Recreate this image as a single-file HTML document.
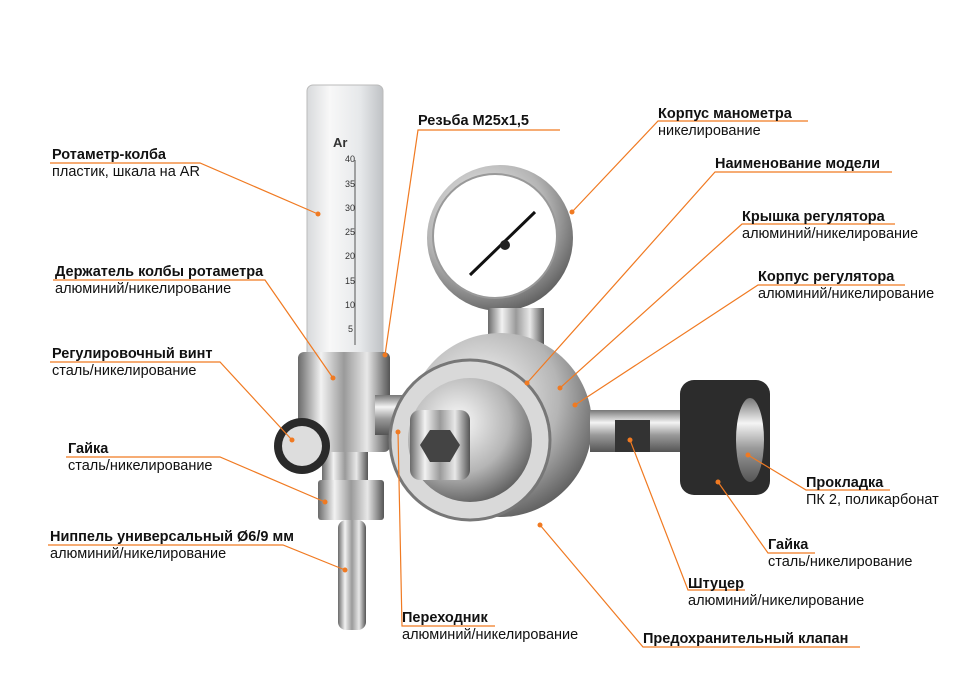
<!DOCTYPE html>
<html><head><meta charset="utf-8"><style>
html,body{margin:0;padding:0;background:#fff;}
body{width:972px;height:687px;position:relative;overflow:hidden;font-family:"Liberation Sans",sans-serif;}
.l{position:absolute;font-size:14.5px;line-height:17px;color:#111;white-space:nowrap;}
.l b{font-weight:bold;}
svg{position:absolute;left:0;top:0;}
</style></head><body>
<svg width="972" height="687" viewBox="0 0 972 687">
<defs>
<linearGradient id="chr" x1="0" x2="1" y1="0" y2="0">
<stop offset="0" stop-color="#6a6a6a"/><stop offset=".25" stop-color="#f2f2f2"/><stop offset=".5" stop-color="#9a9a9a"/><stop offset=".75" stop-color="#e8e8e8"/><stop offset="1" stop-color="#555"/></linearGradient>
<linearGradient id="chrv" x1="0" x2="0" y1="0" y2="1">
<stop offset="0" stop-color="#777"/><stop offset=".3" stop-color="#f4f4f4"/><stop offset=".6" stop-color="#999"/><stop offset="1" stop-color="#555"/></linearGradient>
<radialGradient id="rg" cx=".4" cy=".35" r=".7"><stop offset="0" stop-color="#fafafa"/><stop offset=".6" stop-color="#b5b5b5"/><stop offset="1" stop-color="#5a5a5a"/></radialGradient>
<linearGradient id="tube" x1="0" x2="1"><stop offset="0" stop-color="#d8dadc"/><stop offset=".3" stop-color="#f8f8f8"/><stop offset=".7" stop-color="#e6e8ea"/><stop offset="1" stop-color="#bfc2c5"/></linearGradient>
</defs>
<rect x="307" y="85" width="76" height="275" rx="6" fill="url(#tube)" stroke="#bbb"/>
<text x="333" y="147" font-family="Liberation Sans" font-weight="bold" font-size="13" fill="#333">Ar</text>
<line x1="355" y1="160" x2="355" y2="345" stroke="#555"/>
<g font-family="Liberation Sans" font-size="9" fill="#333">
<text x="345" y="162">40</text><text x="345" y="187">35</text><text x="345" y="211">30</text><text x="345" y="235">25</text><text x="345" y="259">20</text><text x="345" y="284">15</text><text x="345" y="308">10</text><text x="348" y="332">5</text></g>
<rect x="298" y="352" width="92" height="100" rx="6" fill="url(#chr)"/>
<rect x="375" y="395" width="30" height="40" fill="url(#chrv)"/>
<rect x="322" y="452" width="46" height="30" fill="url(#chr)"/>
<rect x="318" y="480" width="66" height="40" rx="3" fill="url(#chr)"/>
<rect x="338" y="520" width="28" height="110" rx="8" fill="url(#chr)"/>
<circle cx="302" cy="446" r="28" fill="#2a2a2a"/><circle cx="302" cy="446" r="20" fill="#ddd"/>
<circle cx="500" cy="238" r="73" fill="url(#rg)"/>
<circle cx="495" cy="236" r="62" fill="#fff" stroke="#999" stroke-width="2"/>
<line x1="470" y1="275" x2="535" y2="212" stroke="#111" stroke-width="3"/>
<circle cx="505" cy="245" r="5" fill="#222"/>
<rect x="488" y="308" width="56" height="40" fill="url(#chr)"/>
<circle cx="500" cy="425" r="92" fill="url(#rg)"/>
<circle cx="470" cy="440" r="80" fill="#d9d9d9" stroke="#777" stroke-width="3"/>
<circle cx="470" cy="440" r="62" fill="url(#rg)"/>
<rect x="410" y="410" width="60" height="70" rx="10" fill="url(#chr)"/>
<polygon points="420,445 430,430 450,430 460,445 450,462 430,462" fill="#444"/>
<rect x="590" y="410" width="100" height="42" fill="url(#chrv)"/>
<rect x="615" y="420" width="35" height="32" fill="#333"/>
<rect x="680" y="380" width="90" height="115" rx="14" fill="#2c2c2c"/>
<ellipse cx="750" cy="440" rx="14" ry="42" fill="url(#chrv)"/>
<g stroke="#f07a22" stroke-width="1.2" fill="none">
<polyline points="50,163 200,163 318,214"/>
<polyline points="53,280 265,280 333,378"/>
<polyline points="50,362 220,362 292,440"/>
<polyline points="66,457 220,457 325,502"/>
<polyline points="48,545 283,545 345,570"/>
<polyline points="560,130 418,130 385,355"/>
<polyline points="808,121 658,121 572,212"/>
<polyline points="892,172 715,172 527,383"/>
<polyline points="895,224 742,224 560,388"/>
<polyline points="905,285 758,285 575,405"/>
<polyline points="890,490 806,490 748,455"/>
<polyline points="815,553 768,553 718,482"/>
<polyline points="745,590 688,590 630,440"/>
<polyline points="860,647 643,647 540,525"/>
<polyline points="495,626 402,626 398,432"/>
</g>
<g fill="#f07a22">
<circle cx="318" cy="214" r="2.5"/><circle cx="333" cy="378" r="2.5"/><circle cx="292" cy="440" r="2.5"/><circle cx="325" cy="502" r="2.5"/><circle cx="345" cy="570" r="2.5"/><circle cx="385" cy="355" r="2.5"/><circle cx="572" cy="212" r="2.5"/><circle cx="527" cy="383" r="2.5"/><circle cx="560" cy="388" r="2.5"/><circle cx="575" cy="405" r="2.5"/><circle cx="748" cy="455" r="2.5"/><circle cx="718" cy="482" r="2.5"/><circle cx="630" cy="440" r="2.5"/><circle cx="540" cy="525" r="2.5"/><circle cx="398" cy="432" r="2.5"/>
</g>
</svg>
<div class="l" style="left:52px;top:147px"><b>Ротаметр-колба</b><br>пластик, шкала на AR</div>
<div class="l" style="left:55px;top:264px"><b>Держатель колбы ротаметра</b><br>алюминий/никелирование</div>
<div class="l" style="left:52px;top:346px"><b>Регулировочный винт</b><br>сталь/никелирование</div>
<div class="l" style="left:68px;top:441px"><b>Гайка</b><br>сталь/никелирование</div>
<div class="l" style="left:50px;top:529px"><b>Ниппель универсальный Ø6/9 мм</b><br>алюминий/никелирование</div>
<div class="l" style="left:418px;top:113px"><b>Резьба M25x1,5</b></div>
<div class="l" style="left:658px;top:106px"><b>Корпус манометра</b><br>никелирование</div>
<div class="l" style="left:715px;top:156px"><b>Наименование модели</b></div>
<div class="l" style="left:742px;top:209px"><b>Крышка регулятора</b><br>алюминий/никелирование</div>
<div class="l" style="left:758px;top:269px"><b>Корпус регулятора</b><br>алюминий/никелирование</div>
<div class="l" style="left:806px;top:475px"><b>Прокладка</b><br>ПК 2, поликарбонат</div>
<div class="l" style="left:768px;top:537px"><b>Гайка</b><br>сталь/никелирование</div>
<div class="l" style="left:688px;top:576px"><b>Штуцер</b><br>алюминий/никелирование</div>
<div class="l" style="left:643px;top:631px"><b>Предохранительный клапан</b></div>
<div class="l" style="left:402px;top:610px"><b>Переходник</b><br>алюминий/никелирование</div>
</body></html>
